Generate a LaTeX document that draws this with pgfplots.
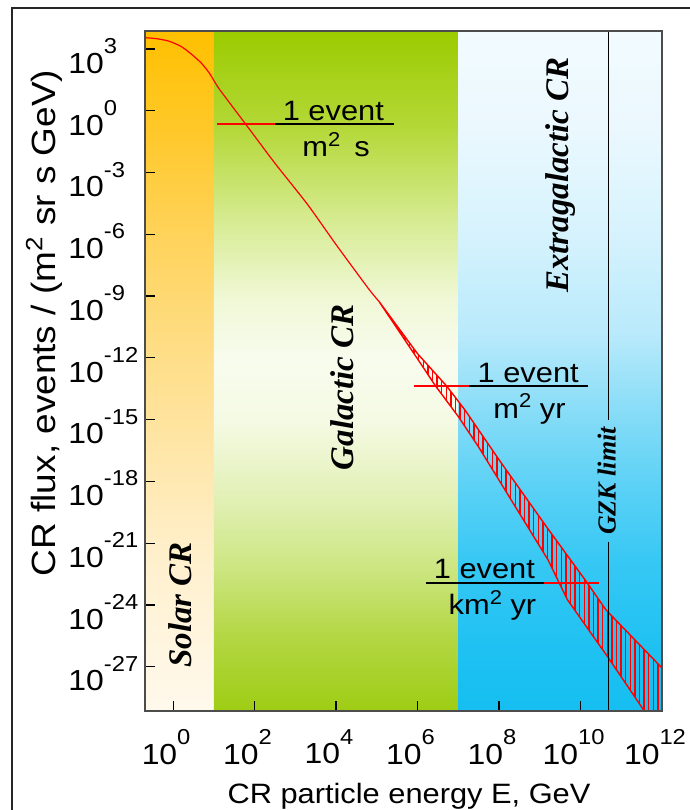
\documentclass[border=0pt]{standalone}
\usepackage{fontspec}
\setmainfont{Liberation Sans}[FakeStretch=1.1]
\newfontfamily\lser{Liberation Serif}
\usepackage{pgfplots}
\pgfplotsset{compat=1.18}
\usetikzlibrary{patterns.meta}

\newcommand{\fs}[1]{\fontsize{#1}{#1}\selectfont}
\newcommand{\ex}[1]{\raisebox{0.68em}{\fontsize{10.8}{10.8}\selectfont #1}}
\newcommand{\sq}[1]{\raisebox{0.36em}{\fontsize{10}{10}\selectfont #1}}

% solar shading colours (bottom -> top)
\definecolor{sA}{RGB}{255,249,236}
\definecolor{sB}{RGB}{255,246,225}
\definecolor{sC}{RGB}{255,240,205}
\definecolor{sD}{RGB}{255,230,168}
\definecolor{sE}{RGB}{254,220,128}
\definecolor{sF}{RGB}{255,210,88}
\definecolor{sG}{RGB}{255,200,40}
\definecolor{sH}{RGB}{255,192,0}
% galactic
\definecolor{gA}{RGB}{158,205,20}
\definecolor{gB}{RGB}{180,215,70}
\definecolor{gC}{RGB}{205,230,130}
\definecolor{gD}{RGB}{225,240,180}
\definecolor{gE}{RGB}{245,250,228}
\definecolor{gF}{RGB}{248,252,238}
\definecolor{gG}{RGB}{240,248,215}
\definecolor{gH}{RGB}{218,237,155}
\definecolor{gI}{RGB}{180,216,55}
\definecolor{gJ}{RGB}{155,203,0}
% extragalactic
\definecolor{bA}{RGB}{22,190,241}
\definecolor{bB}{RGB}{30,193,242}
\definecolor{bC}{RGB}{55,200,244}
\definecolor{bD}{RGB}{95,210,246}
\definecolor{bE}{RGB}{130,219,247}
\definecolor{bF}{RGB}{185,234,251}
\definecolor{bG}{RGB}{215,243,253}
\definecolor{bH}{RGB}{235,248,254}
\definecolor{bI}{RGB}{242,251,255}

\pgfdeclareverticalshading{solarv}{100bp}{color(0bp)=(sA); color(25bp)=(sA); color(29.49bp)=(sB); color(36.10bp)=(sC); color(44.19bp)=(sD); color(52.79bp)=(sE); color(60.37bp)=(sF); color(67.94bp)=(sG); color(75bp)=(sH); color(100bp)=(sH)}
\pgfdeclareverticalshading{galv}{100bp}{color(0bp)=(gA); color(25bp)=(gA); color(30.74bp)=(gB); color(35.59bp)=(gC); color(40.51bp)=(gD); color(46.40bp)=(gE); color(50.81bp)=(gF); color(55.22bp)=(gG); color(60.37bp)=(gH); color(67.94bp)=(gI); color(75bp)=(gJ); color(100bp)=(gJ)}
\pgfdeclareverticalshading{extv}{100bp}{color(0bp)=(bA); color(25bp)=(bA); color(29.49bp)=(bB); color(36.10bp)=(bC); color(41.99bp)=(bD); color(46.40bp)=(bE); color(52.79bp)=(bF); color(60.37bp)=(bG); color(67.94bp)=(bH); color(75bp)=(bI); color(100bp)=(bI)}

\begin{document}
\begin{tikzpicture}
\begin{axis}[
  at={(0,0)}, anchor=south west,
  xmode=log, ymode=log,
  scale only axis, width=258.5pt, height=340pt,
  xmin=0.2042, xmax=1e12, ymin=7.08e-30, ymax=7482,
  axis on top,
  axis line style={black!70, line width=0.6pt},
  tick align=inside,
  xtick pos=bottom, ytick pos=left,
  major tick length=5pt,
  tick style={black, line width=0.6pt},
  minor tick style={draw=none},
  xtick={1,1e2,1e4,1e6,1e8,1e10,1e12},
  xticklabels={10\ex{0},10\ex{2},10\ex{4},10\ex{6},10\ex{8},10\ex{10},10\ex{12}},
  ytick={1e3,1,1e-3,1e-6,1e-9,1e-12,1e-15,1e-18,1e-21,1e-24,1e-27},
  yticklabels={10\ex{3},10\ex{0},10\ex{-3},10\ex{-6},10\ex{-9},10\ex{-12},10\ex{-15},10\ex{-18},10\ex{-21},10\ex{-24},10\ex{-27}},
  xticklabel style={anchor=north, inner sep=0pt, yshift=-9pt, xshift=-3.5pt, font=\fs{14.5}},
  yticklabel style={anchor=west, inner sep=0pt, xshift=-38.5pt, yshift=-3.5pt, font=\fs{14.5}},
]
% region backgrounds
\shade[shading=solarv] (axis cs:0.2042,7.08e-30) rectangle (axis cs:10,7482);
\shade[shading=galv] (axis cs:10,7.08e-30) rectangle (axis cs:1e7,7482);
\shade[shading=extv] (axis cs:1e7,7.08e-30) rectangle (axis cs:1e12,7482);

% uncertainty band
\addplot[draw=red, line width=0.7pt, pattern={Lines[angle=90,distance=2.3pt,line width=0.7pt]}, pattern color=red] coordinates {
 (1.122e5,5.623e-10) (1e6,1.585e-12) (5.129e6,4.365e-14) (1.445e7,3.020e-15)
 (1e8,1.122e-17) (1.585e9,5.012e-21) (1.479e10,1.148e-23) (4.169e10,5.888e-25)
 (1e12,8.71e-28)
 (1e12,5.0e-31) (3.548e11,7.943e-30) (4.571e10,3.162e-27) (4.786e9,1.778e-24)
 (1.585e9,1.585e-22) (3.090e7,5.012e-17) (1e7,1.413e-15) (2.754e6,4.365e-14)
 (1e6,8.913e-13) (1.122e5,5.623e-10)
};

% measured spectrum
\addplot[red, line width=0.6pt, smooth, tension=0.4] coordinates {
 (0.2042,3548) (0.3981,3162) (0.7943,2399) (1.585,1318) (2.818,562.3)
 (5.012,199.5) (7.943,63.10) (12.59,14.13) (25.12,2.239) (63.10,0.1995)
 (316.2,2.818e-3) (1995,2.818e-5) (1e4,3.162e-7) (6.310e4,2.239e-9) (1.122e5,5.623e-10)
};

% event-rate lines
\addplot[red, line width=1pt] coordinates {(11.8,0.2254) (310.5,0.2254)};
\addplot[black, line width=1pt] coordinates {(310.5,0.2254) (2.69e5,0.2254)};
\addplot[red, line width=1pt] coordinates {(8.3e5,4.27e-14) (1.86e7,4.27e-14)};
\addplot[black, line width=1pt] coordinates {(1.86e7,4.27e-14) (1.51e10,4.27e-14)};
\addplot[black, line width=1pt] coordinates {(1.62e6,1.17e-23) (1.26e9,1.17e-23)};
\addplot[red, line width=1pt] coordinates {(1.26e9,1.17e-23) (2.82e10,1.17e-23)};

% GZK limit line
\addplot[black, line width=0.8pt] coordinates {(4.9e10,7482) (4.9e10,9.5e-16)};
\addplot[black, line width=0.8pt] coordinates {(4.9e10,1.15e-21) (4.9e10,7.08e-30)};

% texts
\node[anchor=base, inner sep=0pt, yshift=2pt, font=\fs{14}] at (axis cs:8570,0.2254) {1 event};
\node[anchor=base, inner sep=0pt, yshift=-16pt, font=\fs{14}] at (axis cs:1e4,0.2254) {m\sq{2}\hspace{0.5em}s};
\node[anchor=base, inner sep=0pt, yshift=2pt, font=\fs{14}] at (axis cs:5.2e8,4.27e-14) {1 event};
\node[anchor=base, inner sep=0pt, yshift=-16pt, font=\fs{14}] at (axis cs:5.6e8,4.27e-14) {m\sq{2} yr};
\node[anchor=base, inner sep=0pt, yshift=2pt, font=\fs{14}] at (axis cs:4.37e7,1.17e-23) {1 event};
\node[anchor=base, inner sep=0pt, yshift=-16pt, font=\fs{14}] at (axis cs:6.9e7,1.17e-23) {km\sq{2} yr};

\node[rotate=90, inner sep=0pt, font={\lser\bfseries\itshape\fs{16.5}}] at (axis cs:1.47,1e-24) {Solar CR};
\node[rotate=90, inner sep=0pt, font={\lser\bfseries\itshape\fs{16.5}}] at (axis cs:1.44e4,3.8e-14) {Galactic CR};
\node[rotate=90, inner sep=0pt, font={\lser\bfseries\itshape\fs{16.5}}] at (axis cs:3.3e9,7.6e-4) {Extragalactic CR};
\node[rotate=90, inner sep=0pt, font={\lser\bfseries\itshape\fs{13}}] at (axis cs:4.37e10,1.05e-18) {GZK limit};
\end{axis}

\node[rotate=90, inner sep=0pt, font=\fs{16.8}] at (-50.5pt,194pt) {CR flux, events / (m\textsuperscript{2} sr s GeV)};
\node[anchor=base, inner sep=0pt, font=\fs{14}] at (132pt,-46pt) {CR particle energy E, GeV};

\pgfresetboundingbox
\path[use as bounding box] (-72.5pt,-49.5pt) rectangle (272.5pt,355.5pt);
\draw[line width=1pt, black!85] (-66.5pt,-70pt) -- (-66.5pt,351.5pt) -- (300pt,351.5pt);
\end{tikzpicture}
\end{document}
